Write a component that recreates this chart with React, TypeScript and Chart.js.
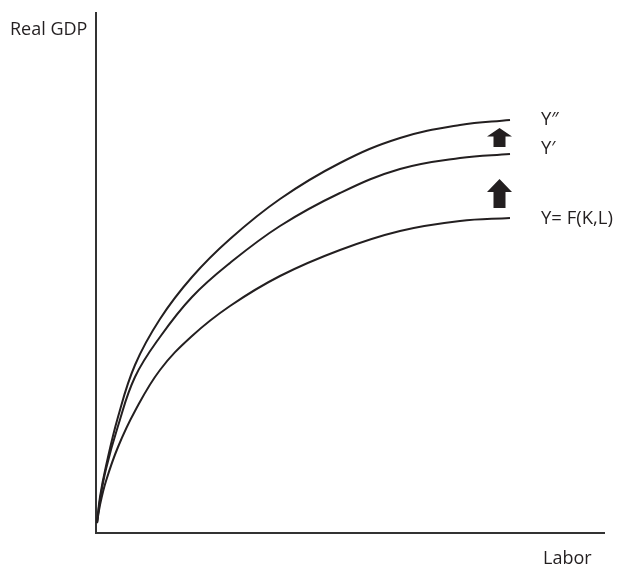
import React, { useEffect, useRef } from "react";
import { Chart, registerables } from "chart.js";

Chart.register(...registerables);

// Labor (x) readings shared by all curves, and Real GDP (y) per curve
const labor = [1, 4, 10, 22, 39, 64, 96, 134, 184, 244, 304, 364, 414];
const gdpBase = [10, 28, 52, 86, 122, 163, 197, 227, 257, 283, 302, 312, 315];
const gdpPrime = [10, 33, 64, 107, 156, 196, 236, 270, 307, 340, 364, 375, 379];
const gdpDouble = [10, 36, 67, 116, 168, 214, 256, 294, 334, 370, 395, 408, 413];

const curveLabels = ["Y″", "Y′", "Y= F(K,L)"];
const curveLabelY = [413, 384, 314];
const curveLabelX = 445;

const arrowX = 403.5;
const arrowBase = [386, 325];
const arrowTip = [405, 354];

const xAxisTitle = "Labor";
const yAxisTitle = "Real GDP";

const X_MAX = 508;
const Y_MAX = 520;

const toPoints = (xs: number[], ys: number[]) => xs.map((x, i) => ({ x, y: ys[i] }));

const FONT = "'Open Sans', 'DejaVu Sans', sans-serif";

const annotations = {
  id: "annotations",
  afterDatasetsDraw(chart: any) {
    const { ctx, chartArea, scales } = chart;
    const xs = scales.x;
    const ys = scales.y;
    ctx.save();
    ctx.fillStyle = "#231f20";
    ctx.textBaseline = "middle";
    ctx.textAlign = "left";
    ctx.font = `18.5px ${FONT}`;
    curveLabels.forEach((t, i) => {
      ctx.fillText(t, xs.getPixelForValue(curveLabelX), ys.getPixelForValue(curveLabelY[i]));
    });
    // axis titles
    ctx.font = `18px ${FONT}`;
    ctx.fillText(yAxisTitle, chartArea.left - 86, chartArea.top + 17);
    ctx.fillText(xAxisTitle, chartArea.right - 61, chartArea.bottom + 26);
    // arrows
    const cx = xs.getPixelForValue(arrowX);
    arrowBase.forEach((b, i) => {
      const yb = ys.getPixelForValue(b);
      const yt = ys.getPixelForValue(arrowTip[i]);
      const len = yb - yt;
      const headH = len * 0.45;
      const headW = 12.5;
      const shaftW = 6;
      ctx.beginPath();
      ctx.moveTo(cx, yt);
      ctx.lineTo(cx + headW, yt + headH);
      ctx.lineTo(cx + shaftW, yt + headH);
      ctx.lineTo(cx + shaftW, yb);
      ctx.lineTo(cx - shaftW, yb);
      ctx.lineTo(cx - shaftW, yt + headH);
      ctx.lineTo(cx - headW, yt + headH);
      ctx.closePath();
      ctx.fillStyle = "#231f20";
      ctx.fill();
    });
    ctx.restore();
  },
};

export default function App() {
  const ref = useRef<HTMLCanvasElement | null>(null);
  useEffect(() => {
    if (!ref.current) return;
    const lineStyle = {
      borderColor: "#231f20",
      borderWidth: 2,
      pointRadius: 0,
      fill: false,
      tension: 0.4,
    };
    const chart = new Chart(ref.current, {
      type: "line",
      data: {
        datasets: [
          { label: "Y", data: toPoints(labor, gdpBase), ...lineStyle },
          { label: "Y'", data: toPoints(labor, gdpPrime), ...lineStyle },
          { label: "Y''", data: toPoints(labor, gdpDouble), ...lineStyle },
        ],
      },
      options: {
        animation: false,
        responsive: false,
        layout: { padding: { left: 96, top: 13, right: 37, bottom: 44 } },
        plugins: { legend: { display: false }, tooltip: { enabled: false } },
        scales: {
          x: {
            type: "linear",
            min: 0,
            max: X_MAX,
            grid: { display: false, drawTicks: false },
            border: { display: true, color: "#333", width: 2 },
            ticks: { display: false },
          },
          y: {
            type: "linear",
            min: 0,
            max: Y_MAX,
            grid: { display: false, drawTicks: false },
            border: { display: true, color: "#333", width: 2 },
            ticks: { display: false },
          },
        },
      },
      plugins: [annotations],
    });
    return () => chart.destroy();
  }, []);
  return (
    <div style={{ position: "fixed", left: 0, top: 0, width: 641, height: 577, background: "#fff" }}>
      <canvas ref={ref} width={641} height={577} style={{ width: 641, height: 577 }} />
    </div>
  );
}
